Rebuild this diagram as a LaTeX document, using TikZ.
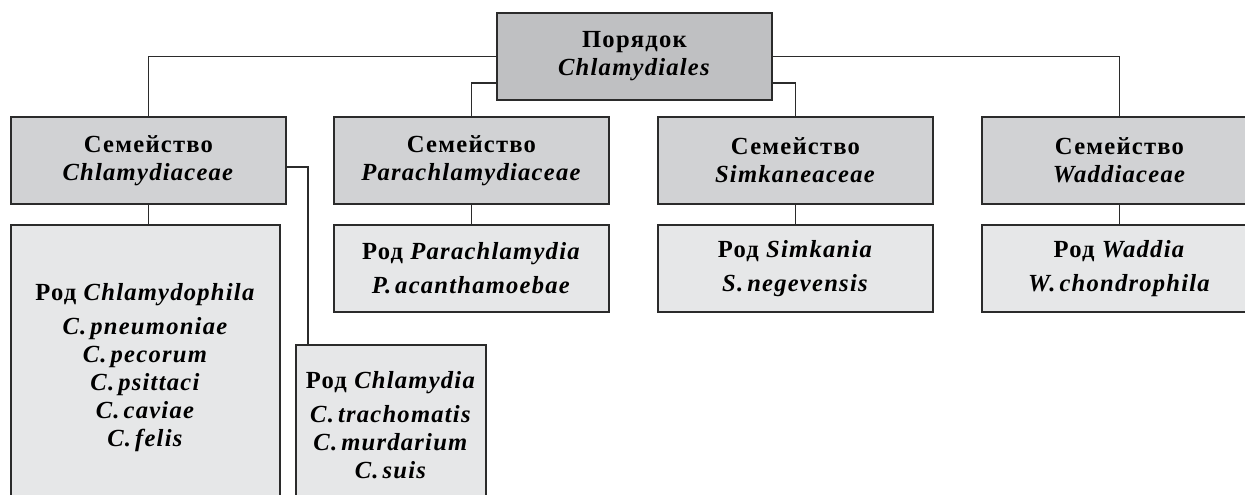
\documentclass[tikz,border=0pt]{standalone}
\usepackage{fontspec}
\setmainfont{Liberation Serif}[LetterSpace=5]

\definecolor{ordfill}{HTML}{BFC0C2}
\definecolor{famfill}{HTML}{D1D2D4}
\definecolor{genfill}{HTML}{E6E7E8}
\definecolor{edge}{HTML}{2B2B2B}

\tikzset{
  box/.style={draw=edge, line width=0.8pt, inner sep=0pt, outer sep=0pt,
    align=center, font=\fontsize{14}{16}\selectfont\bfseries},
  ordbox/.style={box, fill=ordfill, minimum width=5.5cm, minimum height=1.74cm},
  fambox/.style={box, fill=famfill, minimum width=5.5cm, minimum height=1.74cm},
  genbox/.style={box, fill=genfill},
  link/.style={draw=edge, line width=0.8pt}
}
\newcommand{\lat}[1]{\textit{#1}}

\begin{document}
\begin{tikzpicture}[x=0.02cm,y=-0.02cm]
\useasboundingbox (0,0) rectangle (1245,494);
\clip (0,0) rectangle (1245,494);

% order
\node[ordbox] (ord) at (634.5,56.5) {Порядок\\\lat{Chlamydiales}};

% families
\node[fambox] (fam1) at (148.5,160.5) {Семейство\\\lat{Chlamydiaceae}};
\node[fambox] (fam2) at (471.5,160.5) {Семейство\\\lat{Parachlamydiaceae}};
\node[fambox] (fam3) at (795.5,160.5) {Семейство\\\lat{Simkaneaceae}};
\node[fambox] (fam4) at (1119.5,160.5) {Семейство\\\lat{Waddiaceae}};

% genera
\node[genbox, minimum width=5.38cm, minimum height=5.7cm] (gen1) at (145.5,367.5)
  {Род \lat{Chlamydophila}\\[1.2mm]\lat{C.\,pneumoniae}\\\lat{C.\,pecorum}\\
   \lat{C.\,psittaci}\\\lat{C.\,caviae}\\\lat{C.\,felis}};
\node[genbox, minimum width=3.8cm, minimum height=3.2cm] (gen2) at (391,425)
  {Род \lat{Chlamydia}\\[1.2mm]\lat{C.\,trachomatis}\\\lat{C.\,murdarium}\\\lat{C.\,suis}};
\node[genbox, minimum width=5.5cm, minimum height=1.74cm] (gen3) at (471.5,268.5)
  {Род \lat{Parachlamydia}\\[1.2mm]\lat{P.\,acanthamoebae}};
\node[genbox, minimum width=5.5cm, minimum height=1.74cm] (gen4) at (795.5,268.5)
  {Род \lat{Simkania}\\[1.2mm]\lat{S.\,negevensis}};
\node[genbox, minimum width=5.5cm, minimum height=1.74cm] (gen5) at (1119.5,268.5)
  {Род \lat{Waddia}\\[1.2mm]\lat{W.\,chondrophila}};

% links
\draw[link] (ord.west) -| (fam1.north);
\draw[link] (ord.east) -| (fam4.north);
\draw[link] ([yshift=0.34cm]ord.south west) -| (fam2.north);
\draw[link] ([yshift=0.34cm]ord.south east) -| (fam3.north);
\draw[link] (fam1.south) -- (fam1.south |- gen1.north);
\draw[link] ([yshift=-0.13cm]fam1.east) -| ([xshift=0.24cm]gen2.north west);
\draw[link] (fam2.south) -- (gen3.north);
\draw[link] (fam3.south) -- (gen4.north);
\draw[link] (fam4.south) -- (gen5.north);
\end{tikzpicture}
\end{document}
